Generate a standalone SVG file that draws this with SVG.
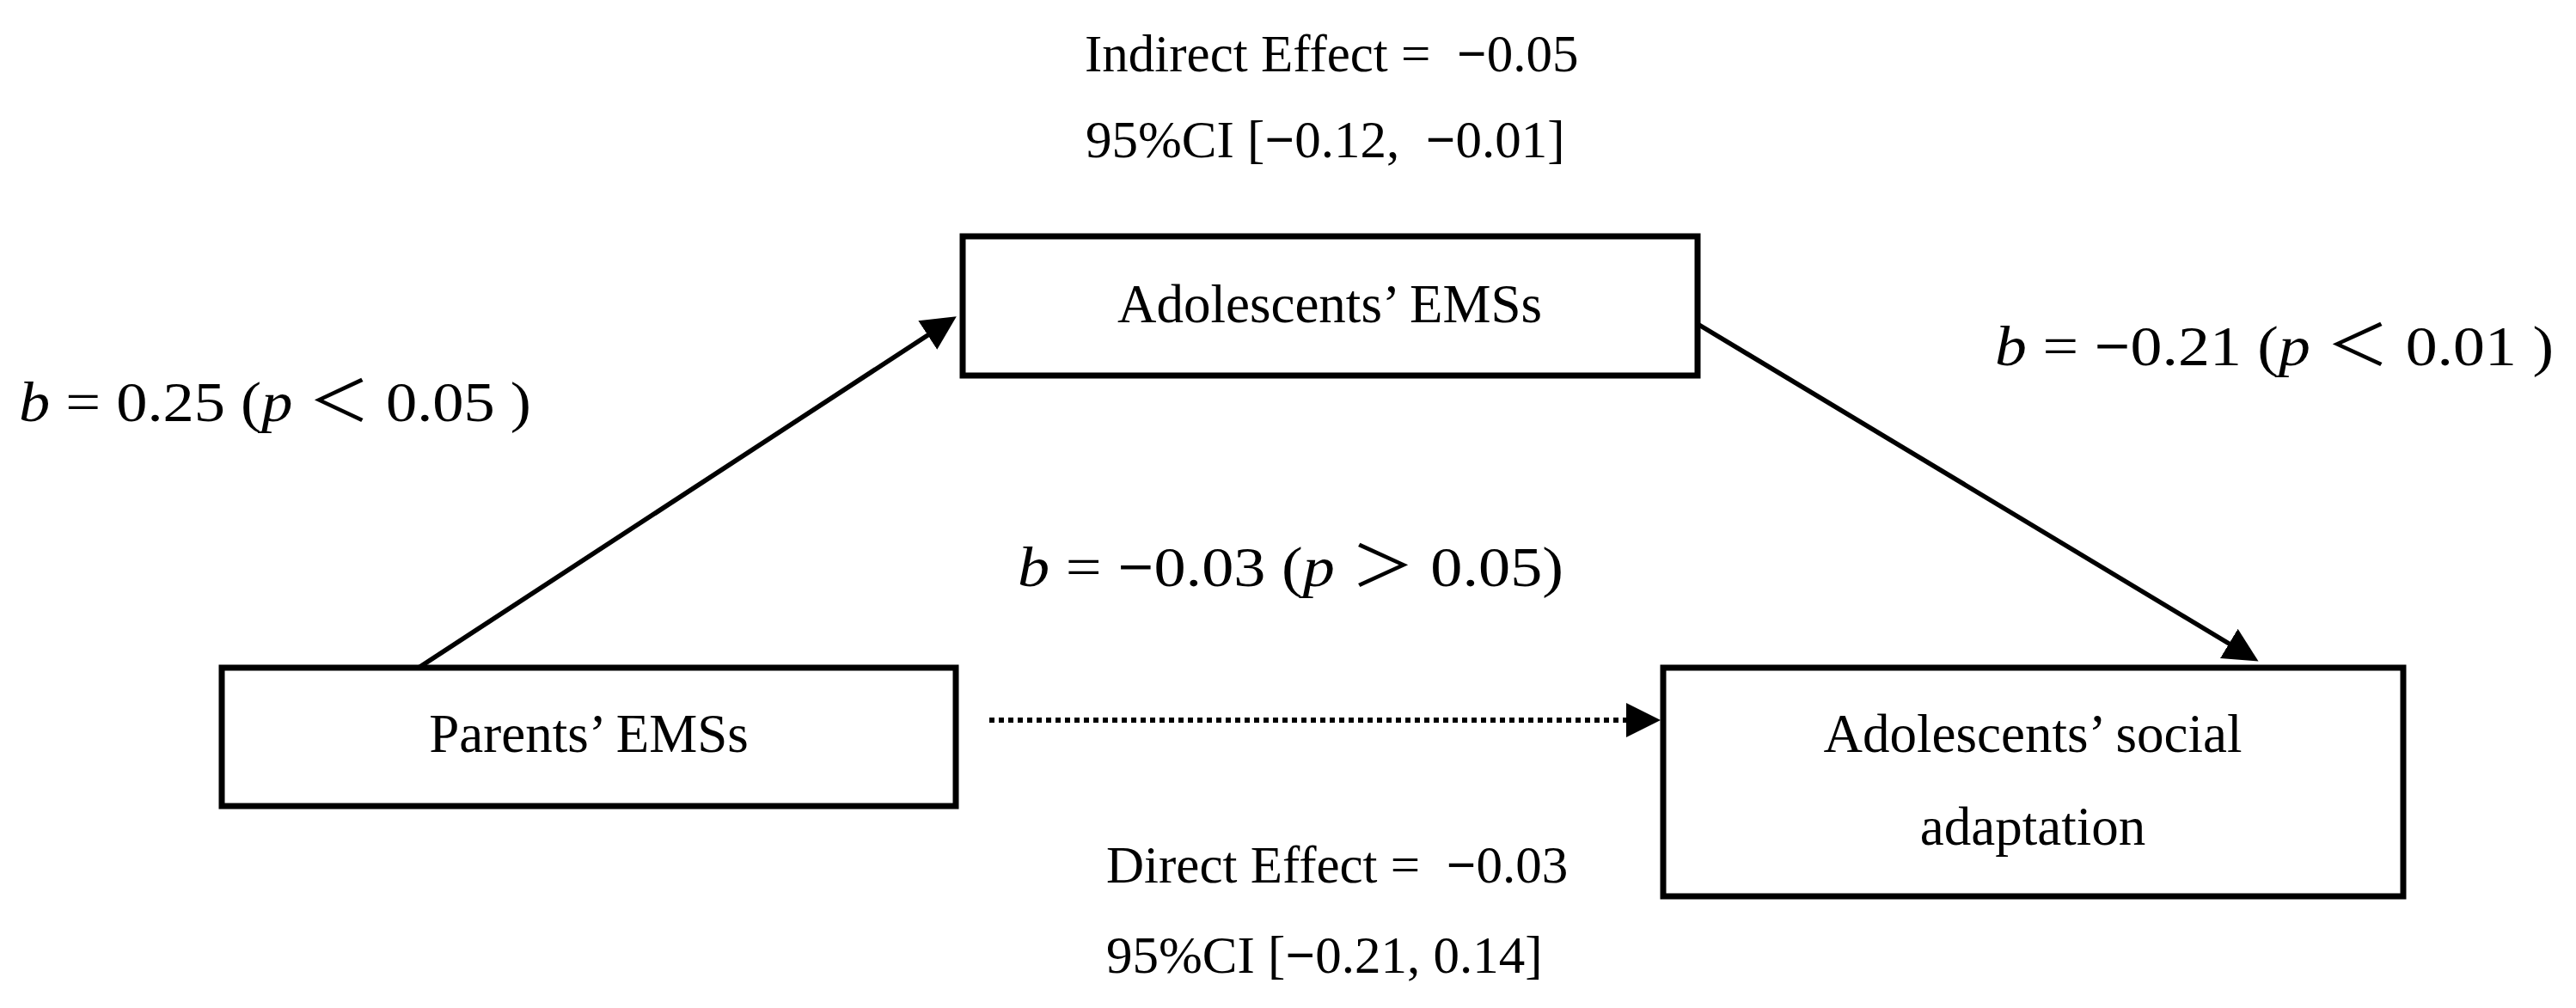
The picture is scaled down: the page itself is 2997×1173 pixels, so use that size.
<svg xmlns="http://www.w3.org/2000/svg" width="2997" height="1173" viewBox="0 0 2997 1173">
<style>
.box{fill:#fff;stroke:#000;stroke-width:7}
.nt{font-family:"Liberation Serif","Times New Roman",serif;font-size:63px;fill:#000;text-anchor:middle}
.et{font-family:"Liberation Serif","Times New Roman",serif;font-size:61px;fill:#000}
.bt{font-family:"Liberation Serif","Times New Roman","Noto Sans CJK SC",serif;font-size:66px;fill:#000}
.it{font-style:italic}
.mn{font-weight:bold}
.ln{stroke:#000;stroke-width:5.5;fill:none}
.dot{stroke:#000;stroke-width:6;stroke-dasharray:6 5;fill:none}
</style>
<defs>
<marker id="ah" markerUnits="userSpaceOnUse" markerWidth="42" markerHeight="42" refX="2" refY="20" orient="auto">
<path d="M0,0 L40,20 L0,40 Z" fill="#000"/>
</marker>
</defs>
<rect width="2997" height="1173" fill="#fff"/>

<g id="connectors">
<line class="ln" x1="487" y1="777" x2="1081" y2="389" marker-end="url(#ah)"/>
<line class="ln" x1="1975" y1="377" x2="2595" y2="750" marker-end="url(#ah)"/>
<line class="dot" x1="1151" y1="838" x2="1894" y2="838" marker-end="url(#ah)"/>
</g>

<g id="node-adolescents-emss">
<rect class="box" x="1120" y="275" width="855" height="162"/>
<text class="nt" x="1547" y="375">Adolescents’ EMSs</text>
</g>

<g id="node-parents-emss">
<rect class="box" x="258" y="777" width="854" height="161"/>
<text class="nt" x="685" y="875">Parents’ EMSs</text>
</g>

<g id="node-social-adaptation">
<rect class="box" x="1935" y="777" width="861" height="266"/>
<text class="nt" x="2365" y="875">Adolescents’ social</text>
<text class="nt" x="2365" y="983">adaptation</text>
</g>

<g id="labels">
<text class="et" x="1262" y="83" xml:space="preserve">Indirect Effect =  <tspan class="mn">−</tspan>0.05</text>
<text class="et" x="1263" y="183" xml:space="preserve">95%CI [<tspan class="mn">−</tspan>0.12,  <tspan class="mn">−</tspan>0.01]</text>
<text class="et" x="1287" y="1027" xml:space="preserve">Direct Effect =  <tspan class="mn">−</tspan>0.03</text>
<text class="et" x="1287" y="1132" xml:space="preserve">95%CI [<tspan class="mn">−</tspan>0.21, 0.14]</text>
<text class="bt" x="22" y="490" textLength="596" lengthAdjust="spacingAndGlyphs"><tspan class="it">b</tspan> = 0.25 (<tspan class="it">p</tspan> ＜ 0.05 )</text>
<text class="bt" x="2321" y="425" textLength="650" lengthAdjust="spacingAndGlyphs"><tspan class="it">b</tspan> = <tspan class="mn">−</tspan>0.21 (<tspan class="it">p</tspan> ＜ 0.01 )</text>
<text class="bt" x="1184" y="682" textLength="635" lengthAdjust="spacingAndGlyphs"><tspan class="it">b</tspan> = <tspan class="mn">−</tspan>0.03 (<tspan class="it">p</tspan> ＞ 0.05)</text>
</g>
</svg>
